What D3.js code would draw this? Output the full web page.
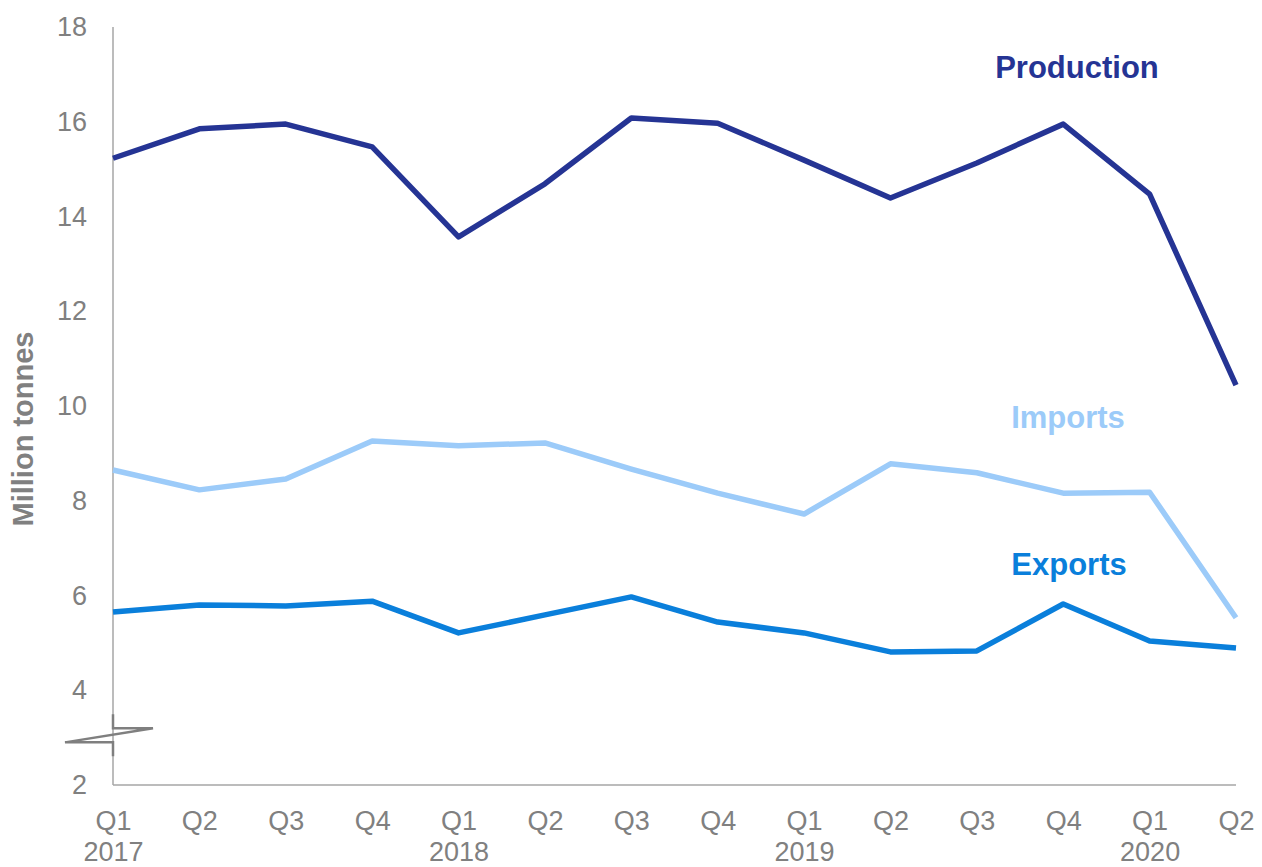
<!DOCTYPE html>
<html>
<head>
<meta charset="utf-8">
<script src="https://cdn.jsdelivr.net/npm/d3@7"></script>
<style>
    body { margin: 0; background: #fff; }
    svg { display: block; font-family: "Liberation Sans", Arial, sans-serif; }
</style>
</head>
<body>
<svg id="chart" width="1262" height="867"></svg>
<script>
// Quarters on the x axis, with the year shown under each Q1
var quarters = ["Q1", "Q2", "Q3", "Q4", "Q1", "Q2", "Q3", "Q4", "Q1", "Q2", "Q3", "Q4", "Q1", "Q2"];
var years = ["2017", "", "", "", "2018", "", "", "", "2019", "", "", "", "2020", ""];

// Million tonnes
var production = [15.23, 15.85, 15.95, 15.47, 13.57, 14.69, 16.08, 15.97, 15.19, 14.39, 15.13, 15.95, 14.47, 10.44];
var imports = [8.65, 8.23, 8.46, 9.26, 9.16, 9.22, 8.67, 8.16, 7.72, 8.78, 8.59, 8.16, 8.18, 5.53];
var exports = [5.65, 5.80, 5.78, 5.88, 5.21, 5.59, 5.97, 5.44, 5.21, 4.81, 4.83, 5.82, 5.04, 4.89];

var yTicks = [2, 4, 6, 8, 10, 12, 14, 16, 18];

var series = [
    {name: "Production", values: production, color: "#253494", labelX: 1077, labelY: 67},
    {name: "Imports", values: imports, color: "#9ccbf9", labelX: 1068, labelY: 417},
    {name: "Exports", values: exports, color: "#0a7fdb", labelX: 1069, labelY: 564}
];

var svg = d3.select("#chart"),
    plotLeft = 113,
    plotRight = 1236,
    plotTop = 27,
    plotBottom = 785,
    axisColor = "#a6a6a6",
    textColor = "#808080",
    tickFont = "27px";

var x = d3.scalePoint()
    .domain(d3.range(quarters.length))
    .range([plotLeft, plotRight]);

var y = d3.scaleLinear()
    .domain([2, 18])
    .range([plotBottom, plotTop]);

// Y axis: tick labels only, plus a plain vertical line
var yAxis = svg.append("g")
    .attr("transform", "translate(" + plotLeft + ",0)")
    .call(d3.axisLeft(y).tickValues(yTicks).tickSize(0).tickPadding(26));
yAxis.select(".domain").remove();
yAxis.selectAll("text")
    .attr("fill", textColor)
    .style("font-size", tickFont);

// X axis: quarter labels with a second line for the year
var xAxis = svg.append("g")
    .attr("transform", "translate(0," + plotBottom + ")")
    .call(d3.axisBottom(x).tickSize(0).tickFormat(function () { return ""; }));
xAxis.select(".domain").remove();
xAxis.selectAll(".tick").each(function (d) {
    var t = d3.select(this).append("text")
        .attr("text-anchor", "middle")
        .attr("fill", textColor)
        .style("font-size", tickFont);
    t.append("tspan").attr("x", 0).attr("y", 45).text(quarters[d]);
    if (years[d]) t.append("tspan").attr("x", 0).attr("y", 76).text(years[d]);
});

// Axis lines
svg.append("line")
    .attr("x1", plotLeft).attr("x2", plotLeft)
    .attr("y1", plotTop).attr("y2", plotBottom)
    .attr("stroke", axisColor).attr("stroke-width", 1.5);
svg.append("line")
    .attr("x1", plotLeft).attr("x2", plotRight)
    .attr("y1", plotBottom).attr("y2", plotBottom)
    .attr("stroke", axisColor).attr("stroke-width", 1.5);

// Axis break mark between 2 and 4
var breakTop = y(3.2),
    breakBottom = y(2.9);
svg.append("path")
    .attr("d", "M" + plotLeft + "," + (breakTop - 14) + "V" + breakTop + "H" + (plotLeft + 40) +
        "L" + (plotLeft - 48) + "," + breakBottom + "H" + plotLeft + "V" + (breakBottom + 14))
    .attr("fill", "none")
    .attr("stroke", "#7f7f7f")
    .attr("stroke-width", 2.5);

// Y axis title
svg.append("text")
    .attr("transform", "translate(33,429) rotate(-90)")
    .attr("text-anchor", "middle")
    .attr("fill", textColor)
    .style("font-size", "29px")
    .style("font-weight", "bold")
    .text("Million tonnes");

// Lines
var line = d3.line()
    .x(function (d, i) { return x(i); })
    .y(function (d) { return y(d); });

series.forEach(function (s) {
    svg.append("path")
        .datum(s.values)
        .attr("d", line)
        .attr("fill", "none")
        .attr("stroke", s.color)
        .attr("stroke-width", 5.5)
        .attr("stroke-linejoin", "round");

    svg.append("text")
        .attr("x", s.labelX)
        .attr("y", s.labelY)
        .attr("text-anchor", "middle")
        .attr("dominant-baseline", "central")
        .attr("fill", s.color)
        .style("font-size", "31px")
        .style("font-weight", "bold")
        .text(s.name);
});
</script>
</body>
</html>
